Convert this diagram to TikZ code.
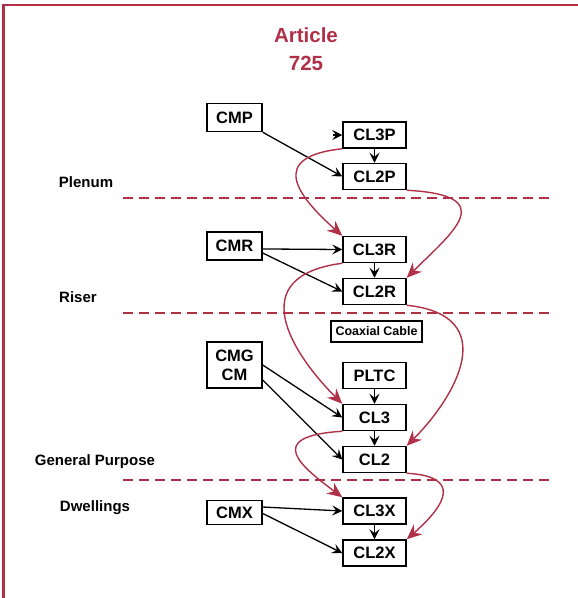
\documentclass[tikz,border=0pt]{standalone}
\usepackage{fontspec}
\setmainfont{Liberation Sans}
\usetikzlibrary{arrows.meta, positioning}
\definecolor{artred}{RGB}{176,48,72}

\begin{document}
\begin{tikzpicture}[x=1pt,y=-1pt,node distance=42pt,on grid,
		cable/.style={draw,line width=1.5pt,minimum width=63pt,minimum height=26pt,inner sep=0pt,font=\fontsize{16.5}{19}\selectfont\bfseries},
		listed/.style={cable,minimum width=55pt,minimum height=28pt,align=center},
		zone/.style={font=\fontsize{15}{17}\selectfont\bfseries},
		feed/.style={-{Stealth[length=10pt,width=10pt,inset=4pt]},line width=1.3pt},
		subst/.style={artred,line width=1.4pt,-{Stealth[length=15pt,width=13pt,inset=5pt]}},
		level/.style={artred,dash pattern=on 10pt off 6pt,line width=1.2pt}]
	\useasboundingbox (0,0) rectangle (578,598);
	\draw[artred,line width=2.5pt] (3.5,598) -- (3.5,5) -- (578,5);
	\node[artred,align=center,font=\fontsize{20.5}{28}\selectfont\bfseries] (title) at (306,49) {Article\\725};
	% fire ratings
	\node[zone] (plenum) at (86,182) {Plenum};
	\node[zone] (riser) at (78,297) {Riser};
	\node[zone] (general) at (95,462) {General Purpose};
	\node[zone] (dwell) at (95,508) {Dwellings};
	\foreach \y in {198,313,480}
		\draw[level] (123,\y) -- (550,\y);
	% cables
	\node[listed] (CMP) at (234.5,117.5) {CMP};
	\node[cable] (CL3P) at (374.5,135) {CL3P};
	\node[cable] (CL2P) [below=41.5pt of CL3P] {CL2P};
	\node[listed] (CMR) at (234.5,246) {CMR};
	\node[cable] (CL3R) at (374.5,249.5) {CL3R};
	\node[cable] (CL2R) [below=of CL3R] {CL2R};
	\node[draw,line width=1.2pt,minimum width=91pt,minimum height=21pt,inner sep=0pt,font=\fontsize{12.5}{14}\selectfont\bfseries] (coax) at (376.5,331.5) {Coaxial Cable};
	\node[listed,minimum height=46pt] (CMG) at (234.5,365) {CMG\\CM};
	\node[cable] (PLTC) at (374.5,375.5) {PLTC};
	\node[cable] (CL3) [below=of PLTC] {CL3};
	\node[cable] (CL2) [below=of CL3] {CL2};
	\node[listed,minimum height=24pt] (CMX) at (234.5,512.5) {CMX};
	\node[cable] (CL3X) at (374.5,511) {CL3X};
	\node[cable] (CL2X) [below=of CL3X] {CL2X};
	\coordinate[left=9pt of CL3P.west] (stub);
	\path[feed]
		(stub) edge (CL3P.west)
		(CMP.south east) edge (CL2P.west)
		(CL3P.south) edge (CL2P.north)
		(CMR.-6) edge (CL3R.west)
		(CMR.-14) edge (CL2R.west)
		(CL3R.south) edge (CL2R.north)
		(PLTC.south) edge (CL3.north)
		(CMG.east) edge (CL3.west)
		(CMG.-28) edge (CL2.west)
		(CL3.south) edge (CL2.north)
		(CMX.11) edge (CL3X.west)
		(CMX.-2) edge (CL2X.west)
		(CL3X.south) edge (CL2X.north);
	% substitutions
	\draw[subst] (CL3P.south west) .. controls +(-75,8) and +(-45,-40) .. (CL3R.north west);
	\draw[subst] (CL2P.south east) .. controls +(95,5) and +(45,-45) .. (CL2R.north east);
	\draw[subst] (CL3R.south west) .. controls +(-100,13) and +(-50,-50) .. (CL3.north west);
	\draw[subst] (CL2R.south east) .. controls +(95,10) and +(50,-50) .. (CL2.north east);
	\draw[subst] (CL3.south west) .. controls +(-80,5) and +(-40,-30) .. (CL3X.north west);
	\draw[subst] (CL2.south east) .. controls +(55,3) and +(40,-35) .. (CL2X.north east);
\end{tikzpicture}
\end{document}
